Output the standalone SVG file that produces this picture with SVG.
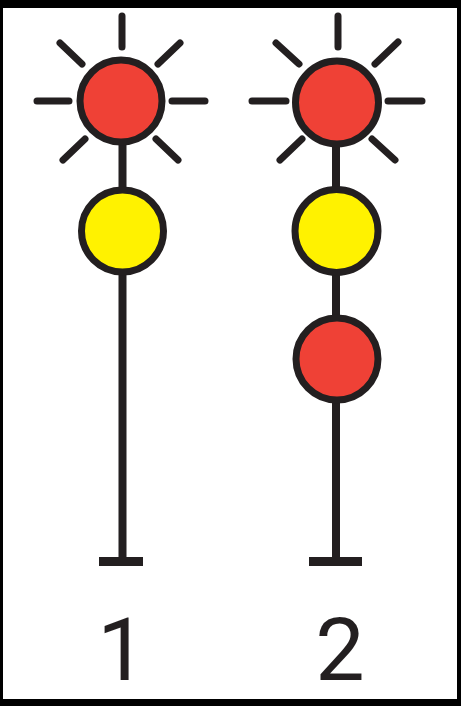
<svg xmlns="http://www.w3.org/2000/svg" width="461" height="706" viewBox="0 0 461 706">
<style>
.ray{stroke:#231f20;stroke-width:7;stroke-linecap:round;fill:none}
.stem{stroke:#231f20;stroke-width:8;fill:none}
.foot{stroke:#231f20;stroke-width:9;fill:none}
.lamp{stroke:#231f20;stroke-width:7}
.red{fill:#ef4136}
.yellow{fill:#fff200}
.num{font-family:Roboto,"Liberation Sans",sans-serif;font-size:88px;fill:#231f20;text-anchor:middle}
</style>
<rect width="461" height="706" fill="#000"/>
<rect x="3" y="8" width="454" height="691" fill="#fff"/>
<g id="connectors">
<path class="stem" d="M122.500 140V560"/>
<path class="foot" d="M99 561.500H143"/>
<path class="stem" d="M336 140V560"/>
<path class="foot" d="M309 561.500H362"/>
</g>
<g id="signal-1-rays">
<path class="ray" d="M122 16V47M37 101H69M172 101H205M60 43L82 64M180 43L158 64M63 160L85 139M178 160L156 139"/>
</g>
<g id="signal-2-rays">
<path class="ray" d="M338 16V47M252 101H286M388 101H422M276 43L299 64M398 42L375 64M280 160L302 139M395 160L372 139"/>
</g>
<g id="lamp-1-red"><circle class="lamp red" cx="121" cy="101" r="41"/></g>
<g id="lamp-1-yellow"><circle class="lamp yellow" cx="122.500" cy="231" r="41"/></g>
<g id="lamp-2-red-top"><circle class="lamp red" cx="337" cy="102.500" r="41.500"/></g>
<g id="lamp-2-yellow"><circle class="lamp yellow" cx="336.500" cy="231" r="41.500"/></g>
<g id="lamp-2-red-bottom"><circle class="lamp red" cx="337" cy="359" r="41"/></g>
<g id="label-1"><text class="num" x="122" y="680">1</text></g>
<g id="label-2"><text class="num" x="340" y="680">2</text></g>
</svg>
